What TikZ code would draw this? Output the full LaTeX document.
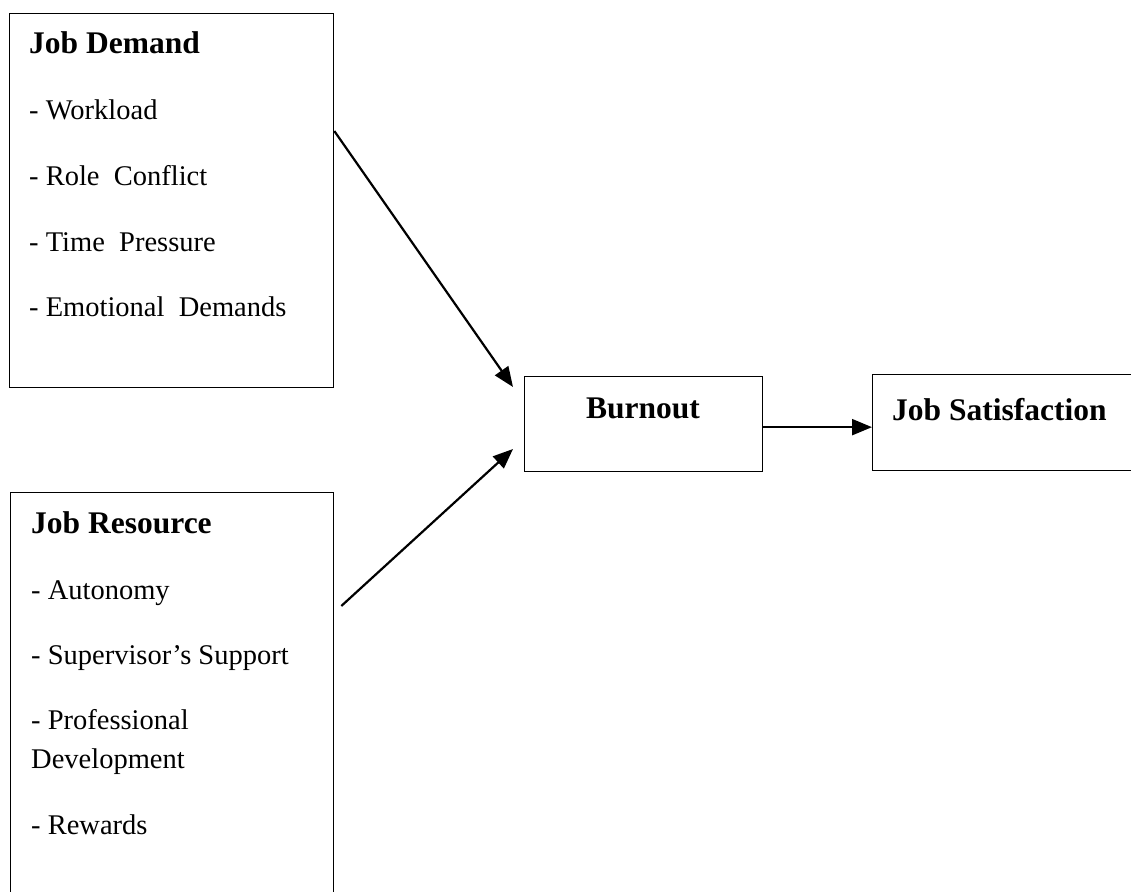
\documentclass[tikz,border=0pt]{standalone}
\usepackage{fontspec}
\setmainfont{Liberation Serif}
\usetikzlibrary{arrows.meta,calc}

\begin{document}
\begin{tikzpicture}[x=1pt,y=-1pt]
  \tikzstyle{box}=[draw, line width=1.3pt, rectangle, inner sep=0pt, anchor=north west]
  \tikzstyle{head}=[anchor=base west, inner sep=0pt, font=\fontsize{31.5}{36}\selectfont\bfseries]
  \tikzstyle{item}=[anchor=base west, inner sep=0pt, font=\fontsize{28.5}{34}\selectfont]
  \tikzstyle{link}=[line width=2.2pt, -{Triangle[length=20pt,width=16pt]}]
  \useasboundingbox (0,0) rectangle (1131,891);
  \clip (0,0) rectangle (1131,891);

  % boxes
  \node[box, minimum width=324pt, minimum height=374pt] (demand) at (9,13) {};
  \node[box, minimum width=323pt, minimum height=420pt] (resource) at (10,492) {};
  \node[box, minimum width=238pt, minimum height=95pt] (burnout) at (524,376) {};
  \node[box, minimum width=275pt, minimum height=96pt] (satisf) at (872,374) {};

  % job demand
  \node[head] (demandtitle) at (29,54) {Job Demand};
  \node[item] (workload) at (29,119) {- Workload};
  \node[item] (conflict) at (29,185) {- Role\ \ Conflict};
  \node[item] (pressure) at (29,251) {- Time\ \ Pressure};
  \node[item] (emotional) at (29,316) {- Emotional\ \ Demands};

  % job resource
  \node[head] (resourcetitle) at (31,533) {Job Resource};
  \node[item] (autonomy) at (31,599) {- Autonomy};
  \node[item] (support) at (31,664) {- Supervisor’s Support};
  \node[item] (profdev) at (31,729) {- Professional};
  \node[item] (profdev2) at (31,768) {Development};
  \node[item] (rewards) at (31,834) {- Rewards};

  % outcomes
  \node[head, anchor=base] (burnouttitle) at (643,418) {Burnout};
  \node[head] (satisftitle) at (892,420) {Job Satisfaction};

  % arrows
  \coordinate (tipa) at ($(burnout.north west)+(-11,11)$);
  \coordinate (tipb) at ($(burnout.north west)+(-11,73)$);
  \draw[link] ($(demand.north east)+(0,118)$) -- (tipa);
  \draw[link] ($(resource.north east)+(7,114)$) -- (tipb);
  \draw[link] ($(burnout.east)+(0,3)$) -- ($(burnout.east -| satisf.west)+(0,3)$);
\end{tikzpicture}
\end{document}
